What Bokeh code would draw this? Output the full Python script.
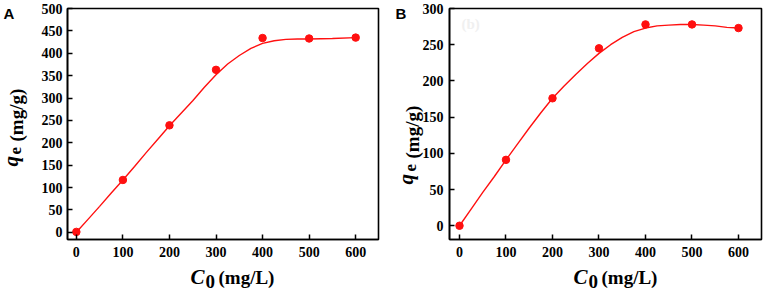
import math
from bokeh.plotting import figure
from bokeh.layouts import row
from bokeh.models import Range1d
from bokeh.core.properties import value
from bokeh.embed import file_html
from bokeh.resources import INLINE

# ---- data ----
c0 = [0, 100, 200, 300, 400, 500, 600]
qe_a = [1, 117, 239, 363, 434, 433, 435]
qe_b = [0, 91, 176, 245, 278, 278, 273]

fit_x_a = [0, 25, 50, 75, 100, 125, 150, 175, 200, 225, 250, 275, 300, 325, 350,
           375, 400, 425, 450, 475, 500, 550, 600]
fit_y_a = [0, 29, 58, 88, 117, 147, 178, 208, 238, 266, 294, 324, 352, 376, 395,
           411, 422, 428, 431, 432, 432, 433, 435]

fit_x_b = [0, 25, 50, 75, 100, 125, 150, 175, 200, 225, 250, 275, 300, 325, 350,
           375, 400, 425, 450, 475, 500, 525, 550, 575, 600]
fit_y_b = [0, 23, 46, 68, 91, 113, 135, 156, 176, 193, 209, 224, 238, 250, 260,
           268, 273, 276, 277, 278, 278, 277, 276, 274, 273]

x_ticks = [0, 100, 200, 300, 400, 500, 600]
y_ticks_a = [0, 50, 100, 150, 200, 250, 300, 350, 400, 450, 500]
y_ticks_b = [0, 50, 100, 150, 200, 250, 300]

x_title_parts = ["C", "0", "(mg/L)"]
y_title_parts = ["q", "e", "(mg/g)"]

RED = "#ff1010"
SERIF = "Liberation Serif"
SANS = "Liberation Sans"
H = 291
K = 0.33  # correction: anchor sits about a third of an em above the baseline


def put(p, xr, yr, frame_left, frame_bottom, ix, iy, text, size, style,
        angle=0.0, font=SERIF, color="black"):
    # (ix, iy) = wanted baseline-start in page pixels
    px = float(size.replace("px", ""))
    if angle == 0:
        iy -= K * px
    else:
        ix -= K * px
    p.text(x=[xr[0]], y=[yr[0]], text=[text],
           x_offset=ix - frame_left, y_offset=iy - frame_bottom,
           angle=angle, text_font=value(font), text_font_style=style,
           text_font_size=size, text_color=color,
           text_align="left", text_baseline="alphabetic", level="overlay")


def make_panel(width, border_left, border_right, frame_left, xr, yr, yticks,
               xs, ys, fx, fy, letter, letter_x, ytitle, xtitle_x, y_standoff):
    frame_top, frame_bottom = 8, 239
    p = figure(width=width, height=H, output_backend="svg", toolbar_location=None,
               x_range=Range1d(*xr), y_range=Range1d(*yr),
               min_border_left=border_left, min_border_right=border_right,
               min_border_top=frame_top, min_border_bottom=H - frame_bottom,
               background_fill_color="white", border_fill_color="white")
    p.grid.visible = False
    p.outline_line_color = "black"
    p.outline_line_width = 1.6

    for ax in (p.xaxis[0], p.yaxis[0]):
        ax.axis_line_width = 1.6
        ax.axis_line_color = "black"
        ax.major_tick_in = 5
        ax.major_tick_out = 0
        ax.minor_tick_in = 3
        ax.minor_tick_out = 0
        ax.major_tick_line_width = 1.5
        ax.minor_tick_line_width = 1.3
        ax.major_label_text_font = SERIF
        ax.major_label_text_font_style = "bold"
        ax.major_label_text_font_size = "14px"
        ax.major_label_text_color = "black"
    p.xaxis[0].ticker = x_ticks
    p.xaxis[0].ticker.num_minor_ticks = 2
    p.yaxis[0].ticker = yticks
    p.yaxis[0].ticker.num_minor_ticks = 2
    p.xaxis[0].major_label_standoff = 7
    p.yaxis[0].major_label_standoff = y_standoff

    p.line(fx, fy, line_color=RED, line_width=1.4)
    p.scatter(xs, ys, size=7.5, fill_color=RED, line_color=RED)

    fl, fb = frame_left, frame_bottom
    # panel letter
    put(p, xr, yr, fl, fb, letter_x, 18, letter, "15px", "bold", font=SANS)

    # y-axis title q_e (mg/g), rotated
    ang = math.pi / 2
    (qx, qy), (ex, ey), (mx, my) = ytitle
    put(p, xr, yr, fl, fb, qx, qy, y_title_parts[0], "21px", "bold italic", angle=ang)
    put(p, xr, yr, fl, fb, ex, ey, y_title_parts[1], "17px", "bold", angle=ang)
    put(p, xr, yr, fl, fb, mx, my, y_title_parts[2], "19px", "bold", angle=ang)

    # x-axis title C_0 (mg/L)
    put(p, xr, yr, fl, fb, xtitle_x, 283, x_title_parts[0], "21px", "bold italic")
    put(p, xr, yr, fl, fb, xtitle_x + 15, 287, x_title_parts[1], "19px", "bold")
    put(p, xr, yr, fl, fb, xtitle_x + 28, 283, x_title_parts[2], "19px", "bold")
    return p


# panel A occupies page x 0..383, panel B 383..765
pa = make_panel(383, 67, 5, 67, (-19, 649), (-16, 500), y_ticks_a,
                c0, qe_a, fit_x_a, fit_y_a, "A", 3,
                ((17, 166), (20.5, 154), (22.5, 141)), 190, 5)
pb = make_panel(382, 66, 4, 383 + 66, (-21.5, 649.5), (-19, 300), y_ticks_b,
                c0, qe_b, fit_x_b, fit_y_b, "B", 395,
                ((412, 184), (415.5, 171), (418.5, 158)), 573, 6)
put(pb, (-21.5, 649.5), (-19, 300), 449, 239, 461, 28, "(b)", "15px", "bold",
    color="#f0f0f0")

layout = row(pa, pb)
open("out.html", "w").write(file_html(layout, INLINE))
